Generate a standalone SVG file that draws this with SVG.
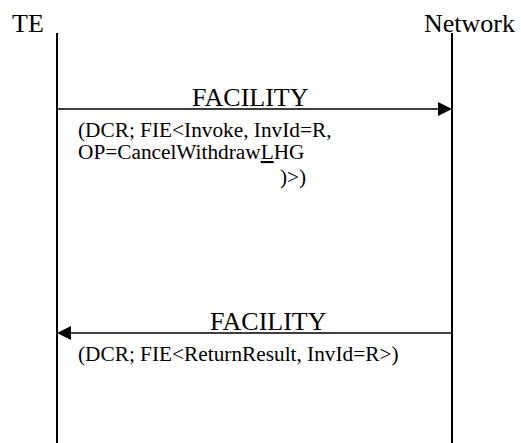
<svg xmlns="http://www.w3.org/2000/svg" width="521" height="443" viewBox="0 0 521 443">
<defs>
<style>
text{font-family:"Liberation Serif","Times New Roman",serif;fill:#000}
.big{font-size:26px}
.sm{font-size:21.3px}
.life{stroke:#000;stroke-width:2;fill:none}
.msg{stroke:#000;stroke-width:1.5;fill:none}
.head{fill:#000}
</style>
</defs>
<rect width="521" height="443" fill="#fff"/>
<g id="te">
<text class="big" x="12" y="32">TE</text>
<line class="life" x1="57" y1="33" x2="57" y2="443"/>
</g>
<g id="network">
<text class="big" x="424" y="32">Network</text>
<line class="life" x1="452" y1="33" x2="452" y2="443"/>
</g>
<g id="connectors">
<g id="msg1">
<line class="msg" x1="57" y1="109" x2="440" y2="109"/>
<polygon class="head" points="438,102 452,109 438,116"/>
<text class="big" x="192" y="106">FACILITY</text>
<text class="sm" x="78" y="137">(DCR; FIE&lt;Invoke, InvId=R,</text>
<text class="sm" x="78" y="159">OP=CancelWithdraw<tspan text-decoration="underline">L</tspan>HG</text>
<text class="sm" x="280" y="184">)&gt;)</text>
</g>
<g id="msg2">
<line class="msg" x1="69" y1="333" x2="452" y2="333"/>
<polygon class="head" points="71,326 57,333 71,340"/>
<text class="big" x="210" y="330">FACILITY</text>
<text class="sm" x="78" y="361">(DCR; FIE&lt;ReturnResult, InvId=R&gt;)</text>
</g>
</g>
</svg>
